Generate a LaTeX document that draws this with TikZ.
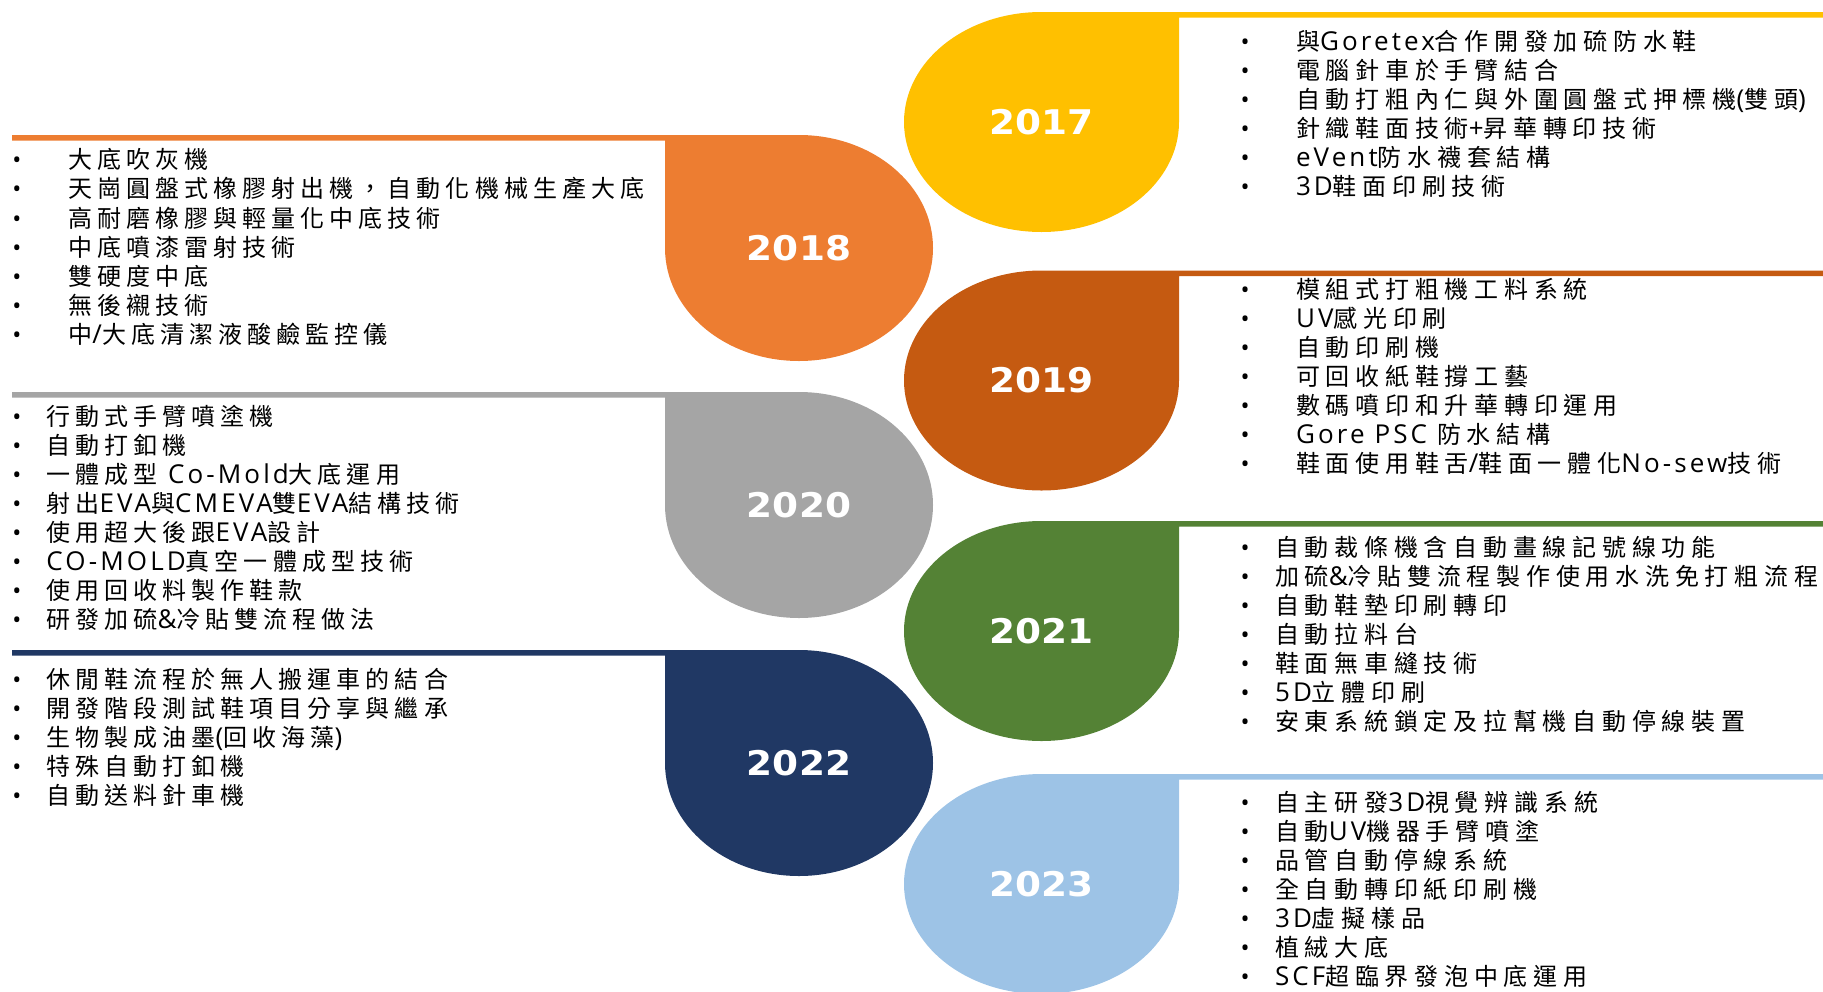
\documentclass[tikz,border=0pt]{standalone}
\usepackage{fontspec}
\newfontfamily\cjkR[LetterSpace=24]{Noto Sans CJK TC}
\newfontfamily\cjkL[LetterSpace=21]{Noto Sans CJK TC}
\newfontfamily\latR[LetterSpace=12]{Open Sans}
\newfontfamily\yearf[FakeStretch=1.1]{DejaVu Sans}
\newcommand\LtR[1]{{\latR\fontsize{26}{28}\selectfont #1}}
\definecolor{c17}{HTML}{FFC000}
\definecolor{c18}{HTML}{ED7D31}
\definecolor{c19}{HTML}{C55A11}
\definecolor{c20}{HTML}{A5A5A5}
\definecolor{c21}{HTML}{548235}
\definecolor{c22}{HTML}{203864}
\definecolor{c23}{HTML}{9DC3E6}
\tikzset{
  itemtxt/.style={anchor=west, inner sep=0pt, outer sep=0pt, text=black,
    font=\cjkR\fontsize{24}{28}\selectfont, text height=21.1pt, text depth=2.9pt},
  itemtxtl/.style={itemtxt, font=\cjkL\fontsize{24}{28}\selectfont},
  yr/.style={inner sep=0pt, text=white, font=\yearf\bfseries\fontsize{34}{34}\selectfont},
}
\begin{document}
\begin{tikzpicture}[x=1pt,y=-1pt]
\useasboundingbox (0,0) rectangle (1823,991);
\clip (0,0) rectangle (1823,991);
% right drops
\fill[c17] (1041.5,12) -- (1823,12) -- (1823,17.5) -- (1179,17.5) -- (1179,122)
  arc[start angle=0,end angle=270,x radius=137.5,y radius=110] -- cycle;
\fill[c19] (1041.5,270.5) -- (1823,270.5) -- (1823,276) -- (1179,276) -- (1179,380.5)
  arc[start angle=0,end angle=270,x radius=137.5,y radius=110] -- cycle;
\fill[c21] (1041.5,521) -- (1823,521) -- (1823,526.5) -- (1179,526.5) -- (1179,631)
  arc[start angle=0,end angle=270,x radius=137.5,y radius=110] -- cycle;
\fill[c23] (1041.5,774) -- (1823,774) -- (1823,779.5) -- (1179,779.5) -- (1179,884)
  arc[start angle=0,end angle=270,x radius=137.5,y radius=110] -- cycle;
% left drops
\fill[c18] (12,135) -- (799,135)
  arc[start angle=-90,end angle=180,x radius=134,y radius=113] -- (665,140.5) -- (12,140.5) -- cycle;
\fill[c20] (12,392) -- (799,392)
  arc[start angle=-90,end angle=180,x radius=134,y radius=113] -- (665,397.5) -- (12,397.5) -- cycle;
\fill[c22] (12,650) -- (799,650)
  arc[start angle=-90,end angle=180,x radius=134,y radius=113] -- (665,655.5) -- (12,655.5) -- cycle;
% year labels
\node[yr] (y2017) at (1041.5,122) {2017};
\node[yr] (y2018) at (799,248) {2018};
\node[yr] (y2019) at (1041.5,380.5) {2019};
\node[yr] (y2020) at (799,505) {2020};
\node[yr] (y2021) at (1041.5,631) {2021};
\node[yr] (y2022) at (799,763) {2022};
\node[yr] (y2023) at (1041.5,884) {2023};
% 2017
\foreach \t [count=\i] in {與\LtR{Goretex}合作開發加硫防水鞋, 電腦針車於手臂結合,
  自動打粗內仁與外圍圓盤式押標機\LtR{(}雙頭\LtR{)}, 針織鞋面技術\LtR{+}昇華轉印技術,
  \LtR{eVent}防水襪套結構, \LtR{3D}鞋面印刷技術}
  \node[itemtxt] (a-\i) at (1240,{41+29*(\i-1)}) {\makebox[56pt][l]{\makebox[10pt][c]{\latR •}}\t};
% 2019
\foreach \t [count=\i] in {模組式打粗機工料系統, \LtR{UV}感光印刷, 自動印刷機, 可回收紙鞋撐工藝,
  數碼噴印和升華轉印運用, \LtR{Gore PSC }防水結構, 鞋面使用鞋舌\LtR{/}鞋面一體化\LtR{No-sew}技術}
  \node[itemtxt] (c-\i) at (1240,{289.5+29*(\i-1)}) {\makebox[56pt][l]{\makebox[10pt][c]{\latR •}}\t};
% 2021
\foreach \t [count=\i] in {自動裁條機含自動畫線記號線功能, 加硫\LtR{\&}冷貼雙流程製作使用水洗免打粗流程,
  自動鞋墊印刷轉印, 自動拉料台, 鞋面無車縫技術, \LtR{5D}立體印刷, 安東系統鎖定及拉幫機自動停線裝置}
  \node[itemtxt] (e-\i) at (1240,{547.5+29*(\i-1)}) {\makebox[35pt][l]{\makebox[10pt][c]{\latR •}}\t};
% 2023
\foreach \t [count=\i] in {自主研發\LtR{3D}視覺辨識系統, 自動\LtR{UV}機器手臂噴塗, 品管自動停線系統,
  全自動轉印紙印刷機, \LtR{3D}虛擬樣品, 植絨大底, \LtR{SCF}超臨界發泡中底運用}
  \node[itemtxt] (g-\i) at (1240,{802.5+29*(\i-1)}) {\makebox[35pt][l]{\makebox[10pt][c]{\latR •}}\t};
% 2018
\foreach \t [count=\i] in {大底吹灰機, 天崗圓盤式橡膠射出機，自動化機械生產大底, 高耐磨橡膠與輕量化中底技術,
  中底噴漆雷射技術, 雙硬度中底, 無後襯技術, 中\LtR{/}大底清潔液酸鹼監控儀}
  \node[itemtxtl] (b-\i) at (12,{159.5+29.2*(\i-1)}) {\makebox[56.5pt][l]{\makebox[10pt][c]{\latR •}}\t};
% 2020
\foreach \t [count=\i] in {行動式手臂噴塗機, 自動打釦機, 一體成型 \LtR{Co-Mold}大底運用,
  射出\LtR{EVA}與\LtR{CMEVA}雙\LtR{EVA}結構技術, 使用超大後跟\LtR{EVA}設計,
  \LtR{CO-MOLD}真空一體成型技術, 使用回收料製作鞋款, 研發加硫\LtR{\&}冷貼雙流程做法}
  \node[itemtxtl] (d-\i) at (12,{416+29.1*(\i-1)}) {\makebox[34.5pt][l]{\makebox[10pt][c]{\latR •}}\t};
% 2022
\foreach \t [count=\i] in {休閒鞋流程於無人搬運車的結合, 開發階段測試鞋項目分享與繼承,
  生物製成油墨\LtR{(}回收海藻\LtR{)}, 特殊自動打釦機, 自動送料針車機}
  \node[itemtxtl] (f-\i) at (12,{679.5+29*(\i-1)}) {\makebox[34.5pt][l]{\makebox[10pt][c]{\latR •}}\t};
\end{tikzpicture}
\end{document}
